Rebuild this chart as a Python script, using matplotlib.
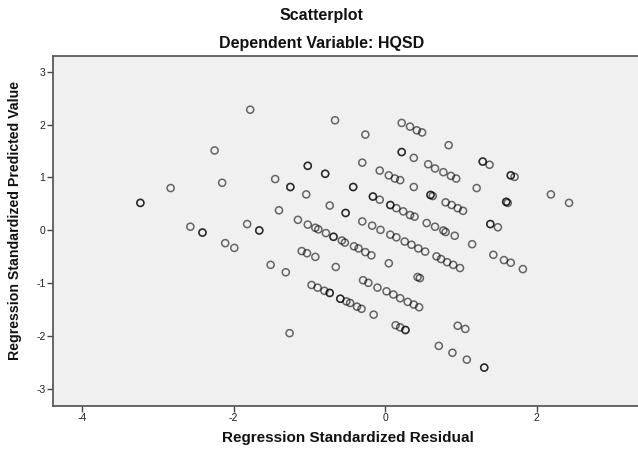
import matplotlib
matplotlib.use('Agg')
import matplotlib.pyplot as plt

plt.rcParams['font.family'] = ['Liberation Sans', 'DejaVu Sans']
plt.rcParams['axes.unicode_minus'] = False

# regression standardized residual / standardized predicted value
resid = [-3.23, -2.83, -2.57, -2.41, -2.25, -2.15, -2.11, -1.99, -1.82, -1.66,
         -1.78, -1.51, -1.31, -1.26, -1.45, -1.25, -1.04, -1.40, -1.15, -1.02,
         -0.92, -0.88, -0.78, -0.68, -0.57, -0.53, -1.10, -1.03, -0.92, -0.65,
         -0.97, -0.89, -0.80, -0.73, -0.59, -0.51, -0.46, -0.37, -0.31, -0.15,
         0.14, 0.20, 0.27, -1.02, -0.79, -0.66, -0.26, -0.30, -0.73, -0.52,
         -0.42, -0.16, -0.07, -0.07, 0.05, 0.13, 0.20, 0.22, 0.33, 0.42,
         0.49, 0.84, 0.22, 0.38, 0.38, 0.07, 0.15, 0.24, 0.33, 0.39,
         0.57, 0.66, 0.77, 0.87, 0.94, 1.29, 1.38, 1.66, 1.71, 0.60,
         0.63, 0.80, 0.88, 0.96, 1.03, 1.21, 1.60, 1.62, 2.19, 2.43,
         -0.30, -0.17, -0.06, 0.07, 0.15, 0.26, 0.35, 0.44, 0.53, 0.55,
         0.66, 0.77, 0.80, 0.92, 1.15, 1.39, 1.49, 1.43, 1.57, 1.66,
         1.82, -0.41, -0.35, -0.26, -0.18, 0.05, 0.68, 0.74, 0.82, 0.90,
         0.99, 0.43, 0.46, -0.29, -0.22, -0.10, 0.02, 0.11, 0.20, 0.30,
         0.38, 0.45, 0.96, 1.06, 0.71, 0.89, 1.08, 1.31,
         # repeated cases (darker rings)
         -3.23, -2.41, -1.66, -1.02, -0.79, -1.25, -0.52, -0.42, 0.22, -0.16,
         0.07, 1.29, 1.66, 0.60, 1.60, 1.39, 1.31, 0.27, -0.73, -0.59, -0.68]
pred = [0.52, 0.80, 0.07, -0.04, 1.51, 0.90, -0.24, -0.33, 0.12, 0.00,
        2.28, -0.65, -0.79, -1.94, 0.97, 0.82, 0.68, 0.38, 0.20, 0.11,
        0.05, 0.02, -0.05, -0.12, -0.19, -0.23, -0.39, -0.43, -0.50, -0.69,
        -1.03, -1.08, -1.14, -1.18, -1.29, -1.34, -1.37, -1.44, -1.48, -1.59,
        -1.79, -1.83, -1.88, 1.22, 1.07, 2.08, 1.81, 1.28, 0.47, 0.33,
        0.82, 0.64, 0.58, 1.13, 1.04, 0.98, 0.95, 2.03, 1.96, 1.89,
        1.85, 1.61, 1.48, 1.37, 0.82, 0.48, 0.42, 0.36, 0.29, 0.26,
        1.25, 1.17, 1.10, 1.03, 0.98, 1.30, 1.24, 1.04, 1.01, 0.67,
        0.65, 0.53, 0.48, 0.42, 0.37, 0.80, 0.54, 0.52, 0.68, 0.52,
        0.17, 0.09, 0.01, -0.08, -0.13, -0.21, -0.27, -0.34, -0.40, 0.14,
        0.07, 0.00, -0.03, -0.10, -0.26, 0.12, 0.06, -0.46, -0.56, -0.61,
        -0.73, -0.30, -0.34, -0.41, -0.47, -0.62, -0.49, -0.54, -0.60, -0.65,
        -0.71, -0.88, -0.90, -0.94, -0.99, -1.08, -1.15, -1.21, -1.28, -1.35,
        -1.40, -1.45, -1.80, -1.86, -2.18, -2.31, -2.44, -2.59,
        0.52, -0.04, 0.00, 1.22, 1.07, 0.82, 0.33, 0.82, 1.48, 0.64,
        0.48, 1.30, 1.04, 0.67, 0.54, 0.12, -2.59, -1.88, -1.18, -1.29, -0.12]

fig = plt.figure(figsize=(6.38, 4.49), dpi=100)
ax = fig.add_axes([0.0823, 0.0964, 0.9177, 0.7796])
ax.set_facecolor('#f0f0f0')

ax.scatter(resid, pred, s=26, facecolors='none', edgecolors='black',
           linewidths=1.1, alpha=0.58)

ax.set_xlim(-4.39, 3.34)
ax.set_ylim(-3.31, 3.30)
ax.set_xticks([-4, -2, 0, 2])
ax.set_yticks([-3, -2, -1, 0, 1, 2, 3])

for side in ['left', 'bottom', 'top']:
    ax.spines[side].set_color('#5a5a5a')
    ax.spines[side].set_linewidth(1.3)
ax.spines['right'].set_visible(False)
ax.tick_params(direction='out', length=4, width=1, color='#444444',
               labelsize=7.5, labelcolor='#222222', pad=1)

fig.text(0.504, 0.966, 'Scatterplot', ha='center', va='center',
         fontsize=11.5, fontweight='bold', color='#111111')
fig.text(0.504, 0.904, 'Dependent Variable: HQSD', ha='center', va='center',
         fontsize=11.5, fontweight='bold', color='#111111')
fig.text(0.545, 0.024, 'Regression Standardized Residual', ha='center', va='center',
         fontsize=11, fontweight='bold', color='#111111')
fig.text(0.024, 0.508, 'Regression Standardized Predicted Value', ha='center', va='center',
         rotation=90, fontsize=10.2, fontweight='bold', color='#111111')

fig.savefig('out.png', dpi=100)
